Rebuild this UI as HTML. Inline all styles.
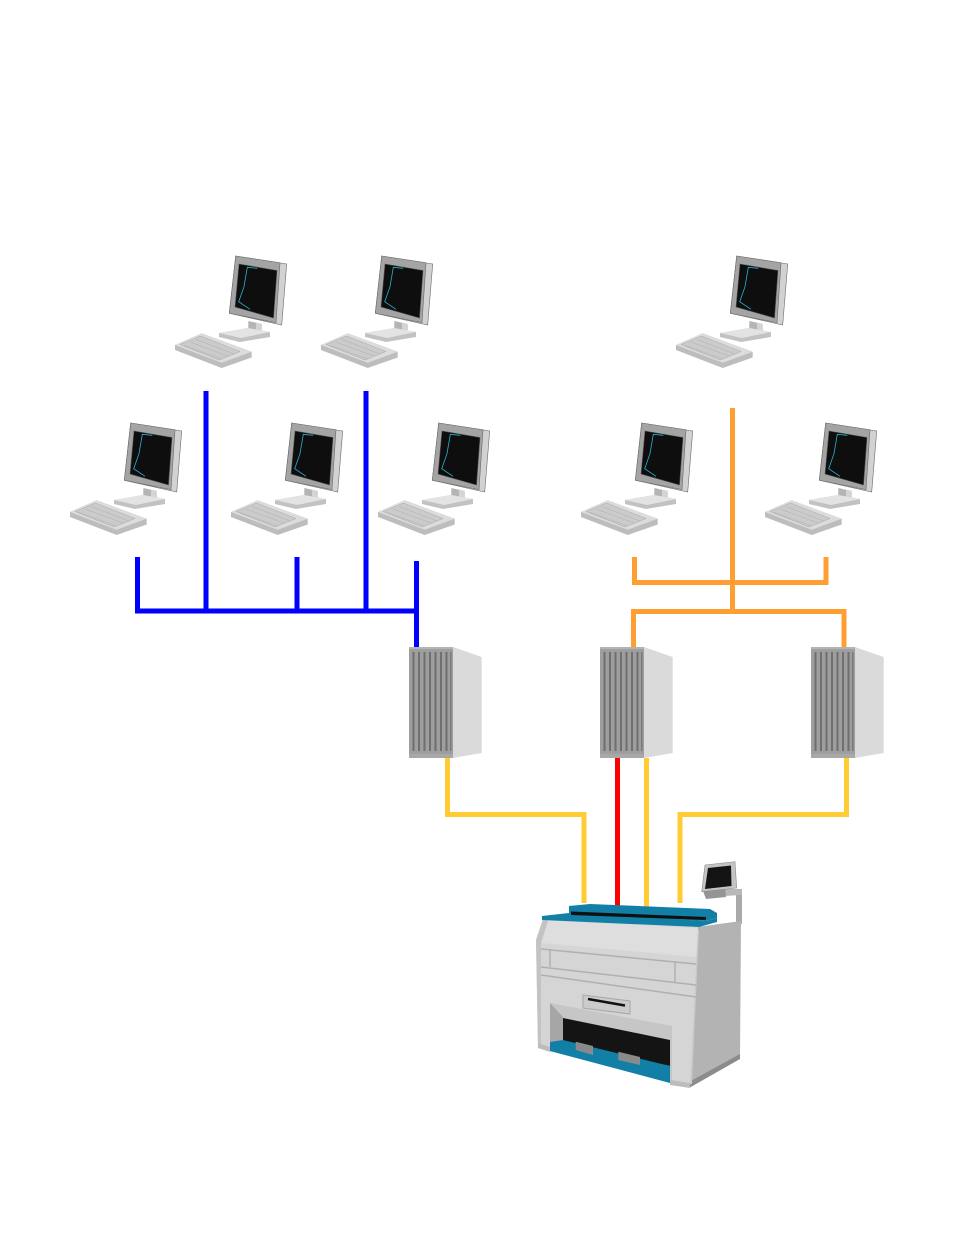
<!DOCTYPE html>
<html>
<head>
<meta charset="utf-8">
<style>
html,body{margin:0;padding:0;background:#fff;}
svg{display:block;}
</style>
</head>
<body>
<svg width="954" height="1235" viewBox="0 0 954 1235" xmlns="http://www.w3.org/2000/svg">
<defs>
  <g id="pc">
    <!-- monitor -->
    <polygon points="65.7,6 116.7,14 111.7,75 59.3,63.3" fill="#d2d2d2" stroke="#6a6a6a" stroke-width="0.6"/>
    <polygon points="65.7,6 110,12.7 106,72.7 59.3,63.3" fill="#a4a4a4" stroke="#6a6a6a" stroke-width="0.6"/>
    <polygon points="69,14 107,20.5 103.5,68 65,57" fill="#0e0e0e" stroke="#555" stroke-width="0.6"/>
    <polyline points="87.3,18.3 77.3,17.3 74,36.7 68.7,51.7 80,59.3" fill="none" stroke="#2ab4cc" stroke-width="0.8"/>
    <!-- neck -->
    <polygon points="78.3,71 91.7,74 91.7,84 78.3,82" fill="#b4b4b4"/>
    <polygon points="86,72.5 91.7,74 91.7,84 86,83" fill="#d4d4d4"/>
    <!-- base -->
    <polygon points="49,83 78,78 100,82 100,87 70,92 49,87" fill="#c2c2c2"/>
    <polygon points="49,83 78,78 100,82 71,88" fill="#e3e3e3"/>
    <!-- keyboard -->
    <polygon points="5,95 31.7,83.3 81.7,101.7 81.7,107.5 51.7,118 5,100" fill="#bdbdbd"/>
    <polygon points="5,95 31.7,83.3 81.7,101.7 51.7,112.7" fill="#dcdcdc"/>
    <polygon points="10,94.5 30.5,86 70,101.5 49,110" fill="#cbcbcb" stroke="#a8a8a8" stroke-width="0.5"/>
    <line x1="14" y1="95.5" x2="52" y2="109" stroke="#b0b0b0" stroke-width="0.5"/>
    <line x1="20" y1="92" x2="58" y2="106" stroke="#b0b0b0" stroke-width="0.5"/>
    <line x1="26" y1="89.5" x2="64" y2="104" stroke="#b0b0b0" stroke-width="0.5"/>
  </g>
  <g id="srv">
    <polygon points="44,0 72.7,10 72.7,106 44,111" fill="#dadada"/>
    <rect x="0" y="0" width="44" height="111" fill="#9e9e9e"/>
    <rect x="0" y="0" width="44" height="2" fill="#b4b4b4"/>
    <rect x="0" y="107" width="44" height="4" fill="#a8a8a8"/>
    <rect x="3.5" y="5" width="2" height="99" fill="#6f6f6f"/>
    <rect x="9" y="5" width="2" height="99" fill="#6f6f6f"/>
    <rect x="14.5" y="5" width="2" height="99" fill="#6f6f6f"/>
    <rect x="20" y="5" width="2" height="99" fill="#6f6f6f"/>
    <rect x="25.5" y="5" width="2" height="99" fill="#6f6f6f"/>
    <rect x="31" y="5" width="2" height="99" fill="#6f6f6f"/>
    <rect x="36.5" y="5" width="2" height="99" fill="#6f6f6f"/>
    <rect x="41" y="5" width="1.5" height="99" fill="#7a7a7a"/>
  </g>
</defs>

<!-- computers -->
<use href="#pc" x="170" y="250"/>
<use href="#pc" x="316" y="250"/>
<use href="#pc" x="671" y="250"/>
<use href="#pc" x="65" y="417"/>
<use href="#pc" x="226" y="417"/>
<use href="#pc" x="373" y="417"/>
<use href="#pc" x="576" y="417"/>
<use href="#pc" x="760" y="417"/>

<!-- blue network -->
<g stroke="#0000ff" stroke-width="5" fill="none" stroke-linejoin="miter">
  <polyline points="137.5,557 137.5,611 419,611"/>
  <line x1="206" y1="391" x2="206" y2="611"/>
  <line x1="297" y1="557" x2="297" y2="611"/>
  <line x1="366" y1="391" x2="366" y2="611"/>
  <line x1="416.5" y1="561" x2="416.5" y2="648"/>
</g>

<!-- orange network -->
<g stroke="#ff9e33" stroke-width="5" fill="none" stroke-linejoin="miter">
  <polyline points="634.5,557 634.5,582.5 826,582.5 826,557"/>
  <line x1="732.5" y1="408" x2="732.5" y2="611"/>
  <polyline points="633.5,648 633.5,611.5 844,611.5 844,648"/>
</g>

<!-- servers -->
<use href="#srv" x="409" y="647"/>
<use href="#srv" x="600" y="647"/>
<use href="#srv" x="811" y="647"/>

<!-- yellow / red connections -->
<g stroke="#ffcc33" stroke-width="5" fill="none" stroke-linejoin="miter">
  <polyline points="447.5,758 447.5,814.5 584,814.5 584,903"/>
  <line x1="646.5" y1="758" x2="646.5" y2="909"/>
  <polyline points="680,903 680,814.5 846.5,814.5 846.5,758"/>
</g>
<line x1="617.5" y1="758" x2="617.5" y2="908" stroke="#ff0000" stroke-width="5"/>

<!-- printer -->
<g>
  <!-- arm + monitor -->
  <rect x="736" y="893" width="6" height="31" fill="#a9a9a9"/>
  <polygon points="722,889 742,889 742,895 724,896" fill="#b8b8b8"/>
  <polygon points="703,891 725,888 726,897 706,899" fill="#959595"/>
  <polygon points="705,865 735,861.7 736.7,888 701.7,891.7" fill="#c4c4c4" stroke="#8a8a8a" stroke-width="0.6"/>
  <polygon points="708,868 731,865.5 731.5,886 705,889" fill="#141414"/>

  <!-- side face -->
  <polygon points="697,927 741,921 740,1058 689,1087" fill="#b3b3b3"/>
  <polygon points="689,1082 740,1054 740,1059 689,1088" fill="#8c8c8c"/>
  <line x1="698" y1="930" x2="691" y2="1084" stroke="#c9c9c9" stroke-width="2"/>

  <!-- front face -->
  <polygon points="543,919 698,927 690,1087 670,1083 550,1051 538,1047 536,940" fill="#d5d5d5"/>
  <polygon points="543,920 698,928 696,957 541,943" fill="#dedede"/>
  <polygon points="543,919 548,921 541,943 541,1047 538,1047 536,940" fill="#c3c3c3"/>
  <g stroke="#b0b0b0" stroke-width="1.5" fill="none">
    <line x1="541" y1="949" x2="696" y2="964"/>
    <line x1="541" y1="967" x2="696" y2="985"/>
    <line x1="541" y1="975" x2="696" y2="997"/>
    <line x1="550" y1="950" x2="550" y2="967"/>
    <line x1="675" y1="962" x2="675" y2="983"/>
  </g>
  <!-- slot -->
  <polygon points="583,995 630,1001 630,1014 583,1008" fill="#cbcbcb" stroke="#a8a8a8" stroke-width="1"/>
  <line x1="588" y1="999" x2="625" y2="1005.5" stroke="#111" stroke-width="2.5"/>

  <!-- opening -->
  <polygon points="550,1003 672,1026 672,1083 550,1051" fill="#c6c6c6"/>
  <polygon points="550,1003 563,1017 563,1043 550,1042" fill="#a6a6a6"/>
  <polygon points="563,1018 670,1040 670,1066 563,1043" fill="#141414"/>
  <polygon points="550,1042 563,1040 670,1066 670,1083 550,1051" fill="#127fa6"/>
  <polygon points="575.7,1041.7 593,1046 593,1055 575.7,1050" fill="#8a8a8a"/>
  <polygon points="618.3,1051.7 640,1057 640,1065 618.3,1060" fill="#8a8a8a"/>
  <!-- bottom strip -->
  <polygon points="538,1043 550,1047 550,1052 538,1048" fill="#bcbcbc"/>
  <polygon points="670,1080 690,1083 690,1088 670,1085" fill="#bcbcbc"/>

  <!-- top blue strip -->
  <polygon points="542,916 569,913 706,921 717,918 717,922 699,927 542,920" fill="#127fa6"/>
  <!-- platen -->
  <polygon points="569,906 590,904 710,909 717,913 717,918 706,921 569,914" fill="#127fa6"/>
  <polygon points="571,911.5 706,917 706,920 571,915" fill="#111"/>
</g>
</svg>
</body>
</html>
